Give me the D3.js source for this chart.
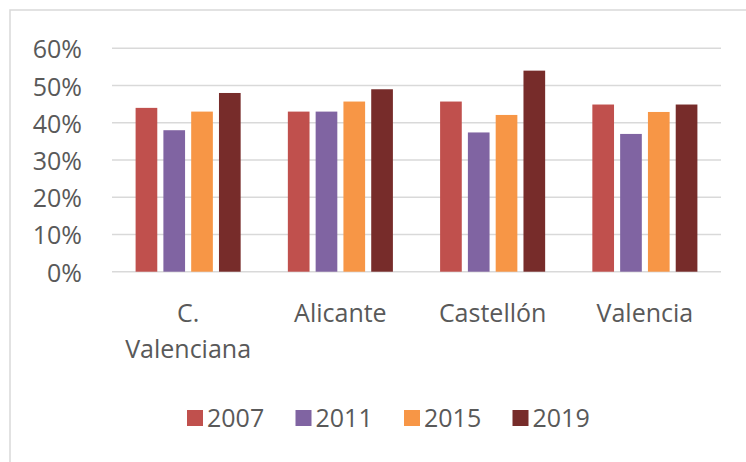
<!DOCTYPE html>
<html>
<head>
<meta charset="utf-8">
<script src="https://cdn.jsdelivr.net/npm/d3@7"></script>
<style>
  body { margin: 0; background: #fff; }
  text { font-family: "Open Sans", sans-serif; fill: #595959; }
</style>
</head>
<body>
<div id="chart"></div>
<script>
// data
const categories = [["C.", "Valenciana"], ["Alicante"], ["Castellón"], ["Valencia"]];
const years = ["2007", "2011", "2015", "2019"];
const v2007 = [0.44, 0.43, 0.457, 0.449];
const v2011 = [0.38, 0.43, 0.374, 0.37];
const v2015 = [0.43, 0.457, 0.421, 0.429];
const v2019 = [0.48, 0.49, 0.54, 0.449];
const yTicks = [0, 0.1, 0.2, 0.3, 0.4, 0.5, 0.6];
const colors = ["#C0504D", "#8064A2", "#F79646", "#772C2A"];

const series = [v2007, v2011, v2015, v2019];
const width = 746, height = 462;
const plot = { left: 112, right: 721, top: 48.3, bottom: 271.7 };
const fontSize = "25px";

const svg = d3.select("#chart").append("svg")
  .attr("width", width)
  .attr("height", height);

// outer frame (runs off the right/bottom edge)
svg.append("rect")
  .attr("x", 10).attr("y", 10)
  .attr("width", 800).attr("height", 500)
  .attr("fill", "none")
  .attr("stroke", "#d9d9d9")
  .attr("stroke-width", 1.5);

const x0 = d3.scaleBand()
  .domain(d3.range(categories.length))
  .range([plot.left, plot.right])
  .paddingInner(0.31)
  .paddingOuter(0.155);

const x1 = d3.scaleBand()
  .domain(years)
  .range([0, x0.bandwidth()])
  .paddingInner(0.22);

const y = d3.scaleLinear()
  .domain([0, 0.6])
  .range([plot.bottom, plot.top]);

// gridlines
svg.append("g")
  .selectAll("line")
  .data(yTicks)
  .join("line")
  .attr("x1", plot.left)
  .attr("x2", plot.right)
  .attr("y1", d => y(d))
  .attr("y2", d => y(d))
  .attr("stroke", "#d9d9d9")
  .attr("stroke-width", 1.5);

// y labels
svg.append("g")
  .selectAll("text")
  .data(yTicks)
  .join("text")
  .attr("x", 82)
  .attr("y", d => y(d))
  .attr("dy", "0.4em")
  .attr("text-anchor", "end")
  .style("font-size", fontSize)
  .text(d3.format(".0%"));

// bars
const groups = svg.append("g")
  .selectAll("g")
  .data(categories.map((c, i) => i))
  .join("g")
  .attr("transform", i => "translate(" + x0(i) + ",0)");

groups.selectAll("rect")
  .data(i => years.map((yr, k) => ({ yr, k, v: series[k][i] })))
  .join("rect")
  .attr("x", d => x1(d.yr))
  .attr("y", d => y(d.v))
  .attr("width", x1.bandwidth())
  .attr("height", d => y(0) - y(d.v))
  .attr("fill", d => colors[d.k]);

// category labels
svg.append("g")
  .selectAll("text")
  .data(categories)
  .join("text")
  .attr("x", (d, i) => x0(i) + x0.bandwidth() / 2)
  .attr("y", 321.5)
  .attr("text-anchor", "middle")
  .style("font-size", fontSize)
  .selectAll("tspan")
  .data(d => d)
  .join("tspan")
  .attr("x", function() { return this.parentNode.getAttribute("x"); })
  .attr("dy", (d, i) => i === 0 ? 0 : 36.7)
  .text(d => d);

// legend
const legend = svg.append("g")
  .selectAll("g")
  .data(years)
  .join("g")
  .attr("transform", (d, i) => "translate(" + (187 + i * 108.5) + ",410)");

legend.append("rect")
  .attr("width", 16)
  .attr("height", 16)
  .attr("fill", (d, i) => colors[i]);

legend.append("text")
  .attr("x", 20)
  .attr("y", 16.5)
  .style("font-size", fontSize)
  .text(d => d);
</script>
</body>
</html>
